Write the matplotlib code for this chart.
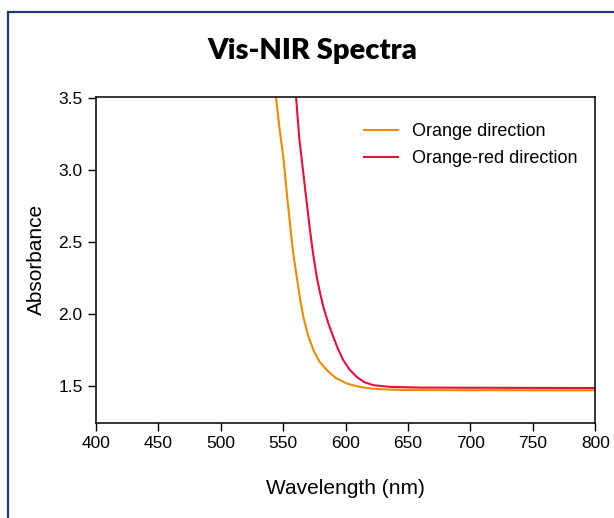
import matplotlib
matplotlib.use("Agg")
import matplotlib.pyplot as plt
from matplotlib.patches import Rectangle

# Spectra (wavelength in nm, absorbance)
orange_wl = [543, 544.3, 547, 550.2, 553, 555.5, 558, 560.9, 563.5, 566.2, 570, 574.2,
             579, 584.9, 592, 600.9, 610, 619.6, 630, 645, 680, 720, 760, 800]
orange_abs = [3.62, 3.51, 3.30, 3.09, 2.84, 2.63, 2.43, 2.26, 2.11, 1.98, 1.85, 1.75,
              1.67, 1.61, 1.555, 1.516, 1.494, 1.481, 1.475, 1.471, 1.469, 1.469, 1.468, 1.468]

red_wl = [559, 560.4, 563, 566.2, 569, 571.6, 574, 576.9, 579.5, 582.2, 586, 590.2,
          594, 598.2, 603, 608.9, 615, 622.2, 635.6, 660, 700, 750, 800]
red_abs = [3.62, 3.51, 3.22, 2.98, 2.77, 2.58, 2.42, 2.26, 2.15, 2.05, 1.94, 1.84,
           1.755, 1.678, 1.615, 1.562, 1.525, 1.504, 1.492, 1.487, 1.486, 1.485, 1.484]

series_labels = ["Orange direction", "Orange-red direction"]
series_colors = ["#F28A00", "#E3103C"]

x_ticks = [400, 450, 500, 550, 600, 650, 700, 750, 800]
y_ticks = [1.5, 2.0, 2.5, 3.0, 3.5]

plt.rcParams['font.family'] = ['Liberation Sans', 'DejaVu Sans']

fig = plt.figure(figsize=(6.14, 5.18), dpi=100)
ax = fig.add_axes([95.7 / 614, 1 - 422.7 / 518, 499.6 / 614, 325.7 / 518])

# navy frame around the panel (runs off the right and bottom edges)
fig.patches.append(Rectangle((8 / 614, -0.1), 1.2, 1 - 12 / 518 + 0.1,
                             transform=fig.transFigure, fill=False,
                             edgecolor="#1F3B73", linewidth=1.6))

ax.plot(orange_wl, orange_abs, color=series_colors[0], lw=1.5, label=series_labels[0])
ax.plot(red_wl, red_abs, color=series_colors[1], lw=1.5, label=series_labels[1])

ax.set_xlim(400, 800)
ax.set_ylim(1.243, 3.507)
ax.set_xticks(x_ticks)
ax.set_yticks(y_ticks)
ax.set_yticklabels([f"{v:.1f}" for v in y_ticks])
ax.tick_params(direction="out", length=5.5, width=1, labelsize=12.5, color="black", pad=4)
for s in ax.spines.values():
    s.set_linewidth(1.1)

ax.set_xlabel("Wavelength (nm)", fontsize=15, labelpad=20)
ax.set_ylabel("Absorbance", fontsize=15, labelpad=9)

fig.text(0.508, 1 - 51 / 518, "Vis-NIR Spectra", ha="center", va="center",
         fontsize=21, fontweight="heavy", family=["Lato", "DejaVu Sans"])

ax.legend(loc="upper left", bbox_to_anchor=(0.519, 0.948), frameon=False, borderpad=0,
          fontsize=13, handlelength=1.9, handletextpad=0.75, labelspacing=0.55)

fig.savefig("out.png", dpi=100)
